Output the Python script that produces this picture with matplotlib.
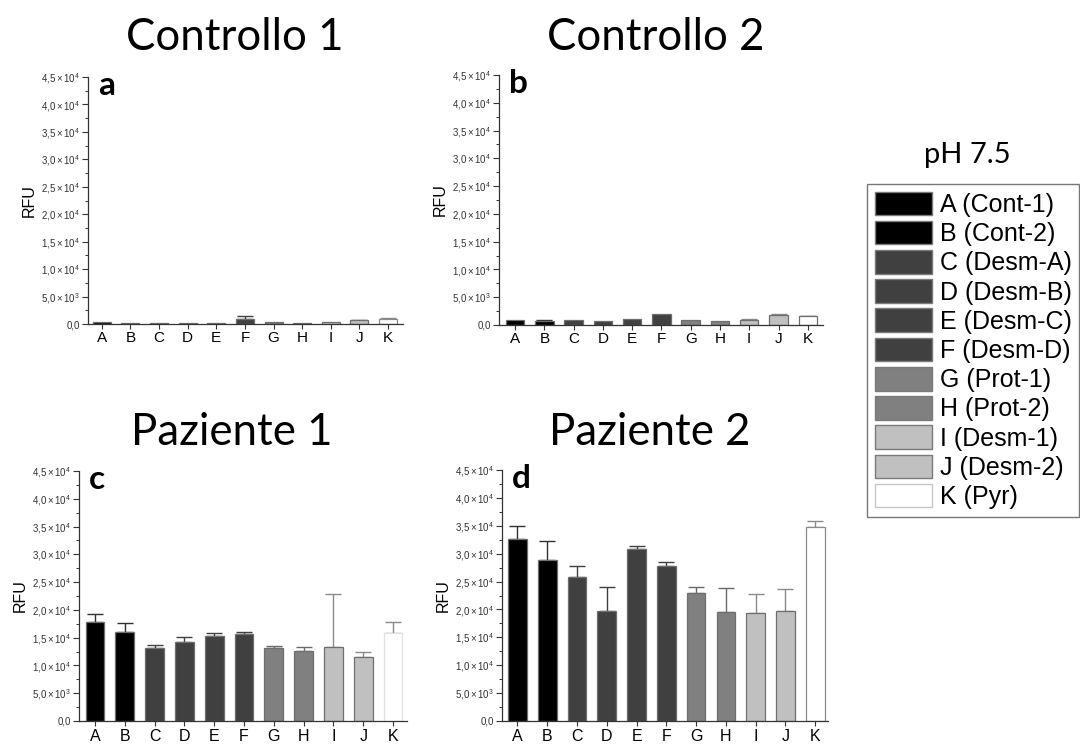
import matplotlib
matplotlib.use("Agg")
import matplotlib.pyplot as plt
from matplotlib.patches import Patch
from matplotlib.ticker import MultipleLocator, FuncFormatter

# ---------------- data ----------------
categories = ["A", "B", "C", "D", "E", "F", "G", "H", "I", "J", "K"]
legend_labels = ["A (Cont-1)", "B (Cont-2)", "C (Desm-A)", "D (Desm-B)", "E (Desm-C)",
                 "F (Desm-D)", "G (Prot-1)", "H (Prot-2)", "I (Desm-1)", "J (Desm-2)", "K (Pyr)"]
bar_colors = ["#000000", "#000000", "#404040", "#404040", "#404040", "#404040",
              "#808080", "#808080", "#c0c0c0", "#c0c0c0", "#ffffff"]
err_colors = ["#303030", "#303030", "#404040", "#404040", "#404040", "#404040",
              "#6a6a6a", "#6a6a6a", "#8a8a8a", "#8a8a8a", "#8a8a8a"]

controllo1_vals = [300, 150, 250, 200, 250, 1000, 350, 150, 300, 700, 1000]
controllo1_err = [0, 0, 0, 0, 0, 450, 0, 0, 0, 100, 50]

controllo2_vals = [900, 660, 900, 660, 1080, 1920, 900, 720, 960, 1860, 1620]
controllo2_err = [0, 150, 0, 0, 0, 0, 0, 0, 120, 180, 60]

paziente1_vals = [17800, 16000, 13100, 14200, 15300, 15600, 13100, 12600, 13400, 11600, 15900]
paziente1_err = [1500, 1600, 550, 850, 500, 400, 400, 700, 9500, 800, 2000]

paziente2_vals = [32700, 28900, 25900, 19700, 30800, 27800, 22900, 19600, 19400, 19700, 34800]
paziente2_err = [2200, 3300, 1900, 4300, 500, 700, 1100, 4200, 3400, 3900, 1100]

titles = ["Controllo 1", "Controllo 2", "Paziente 1", "Paziente 2"]
panel_letters = ["a", "b", "c", "d"]
legend_title = "pH 7.5"

# ---------------- figure ----------------
plt.rcParams["mathtext.fontset"] = "custom"
plt.rcParams["mathtext.rm"] = "Liberation Sans"
plt.rcParams["mathtext.it"] = "Liberation Sans:italic"
plt.rcParams["mathtext.bf"] = "Liberation Sans:bold"

W, H = 1080, 744
fig = plt.figure(figsize=(W / 100, H / 100), dpi=100)

SANS = ["Liberation Sans", "DejaVu Sans"]
TITLE_FONT = ["Lato", "DejaVu Sans"]


def px_axes(left, top, right, bottom):
    return [left / W, 1 - bottom / H, (right - left) / W, (bottom - top) / H]


def ytick_fmt(v, pos):
    if abs(v) < 1e-9:
        return "0,0"
    exp = 3 if v < 10000 else 4
    m = ("%.1f" % (v / 10 ** exp)).replace(".", "{,}")
    return r"$\mathregular{%s\times10^{%d}}$" % (m, exp)


panels = [
    dict(rect=(88, 77, 403, 324), xlim=(-0.48, 10.52), vals=controllo1_vals, err=controllo1_err,
         xfs=11, xpad=1.5, k_edge="#8a8a8a"),
    dict(rect=(499, 75, 823, 325), xlim=(-0.55, 10.52), vals=controllo2_vals, err=controllo2_err,
         xfs=11, xpad=1.5, k_edge="#6e6e6e"),
    dict(rect=(79, 471, 407, 721), xlim=(-0.54, 10.47), vals=paziente1_vals, err=paziente1_err,
         xfs=11.5, xpad=2.5, k_edge="#e2e2e2"),
    dict(rect=(502, 470, 828, 721), xlim=(-0.52, 10.43), vals=paziente2_vals, err=paziente2_err,
         xfs=11.5, xpad=2.5, k_edge="#8a8a8a"),
]

x = list(range(len(categories)))
for i, p in enumerate(panels):
    l, t, r, b = p["rect"]
    ax = fig.add_axes(px_axes(l, t, r, b))
    edges = ["#6e6e6e"] * 10 + [p["k_edge"]]
    ax.bar(x, p["vals"], width=0.63, color=bar_colors, edgecolor=edges, linewidth=0.9, zorder=2)
    for xi, v, e, ec in zip(x, p["vals"], p["err"], err_colors):
        if e > 0:
            ax.errorbar(xi, v, yerr=[[0], [e]], fmt="none", ecolor=ec, elinewidth=1.0,
                        capsize=5.5, capthick=1.0, zorder=1)
    ax.set_xlim(*p["xlim"])
    ax.set_ylim(0, 45000)
    ax.set_xticks(x)
    ax.set_xticklabels(categories, fontfamily=SANS, fontsize=p["xfs"])
    ax.yaxis.set_major_locator(MultipleLocator(5000))
    ax.yaxis.set_minor_locator(MultipleLocator(2500))
    ax.yaxis.set_major_formatter(FuncFormatter(ytick_fmt))
    for lab in ax.get_yticklabels():
        lab.set_fontfamily(SANS)
    ax.tick_params(axis="y", which="major", labelsize=7.0, length=4, width=0.8,
                   colors="#333333", pad=2)
    ax.tick_params(axis="y", which="minor", length=2.2, width=0.7, colors="#333333")
    ax.tick_params(axis="x", which="major", length=3.5, width=0.8, colors="#333333",
                   pad=p["xpad"], labelcolor="#000000")
    for s in ("top", "right"):
        ax.spines[s].set_visible(False)
    for s in ("left", "bottom"):
        ax.spines[s].set_color("#333333")
        ax.spines[s].set_linewidth(0.9)
    ax.set_ylabel("RFU", fontfamily=SANS, fontsize=11.5)
    ax.yaxis.set_label_coords(-51 / (r - l), 0.5)
    ax.annotate(panel_letters[i], xy=(0, 1), xycoords="axes fraction",
                xytext=(10, -18), textcoords="offset pixels", ha="left", va="baseline",
                fontsize=24, fontweight="bold", fontfamily=TITLE_FONT)

# titles (pixel positions -> figure fraction)
title_pos = [(235, 50), (656, 50), (232, 445), (650, 445)]
for txt, (cx, by) in zip(titles, title_pos):
    fig.text(cx / W, 1 - by / H, txt, ha="center", va="baseline",
             fontsize=31.5, fontfamily=TITLE_FONT)

fig.text(967 / W, 1 - 163 / H, legend_title, ha="center", va="baseline",
         fontsize=21, fontfamily=TITLE_FONT)

# legend
handles = [Patch(facecolor=c, edgecolor=("#c8c8c8" if c == "#ffffff" else "#7a7a7a"),
                 linewidth=1.0) for c in bar_colors]
leg = fig.legend(handles, legend_labels, loc="upper left",
                 bbox_to_anchor=(867 / W, 1 - 184 / H), borderaxespad=0,
                 prop=dict(family=SANS, size=18), frameon=True, fancybox=False,
                 edgecolor="#555555", labelspacing=0.155, handlelength=2.3,
                 handleheight=1.08, handletextpad=0.3, borderpad=0.3)
leg.get_frame().set_linewidth(1.0)

fig.savefig("out.png", dpi=100)
